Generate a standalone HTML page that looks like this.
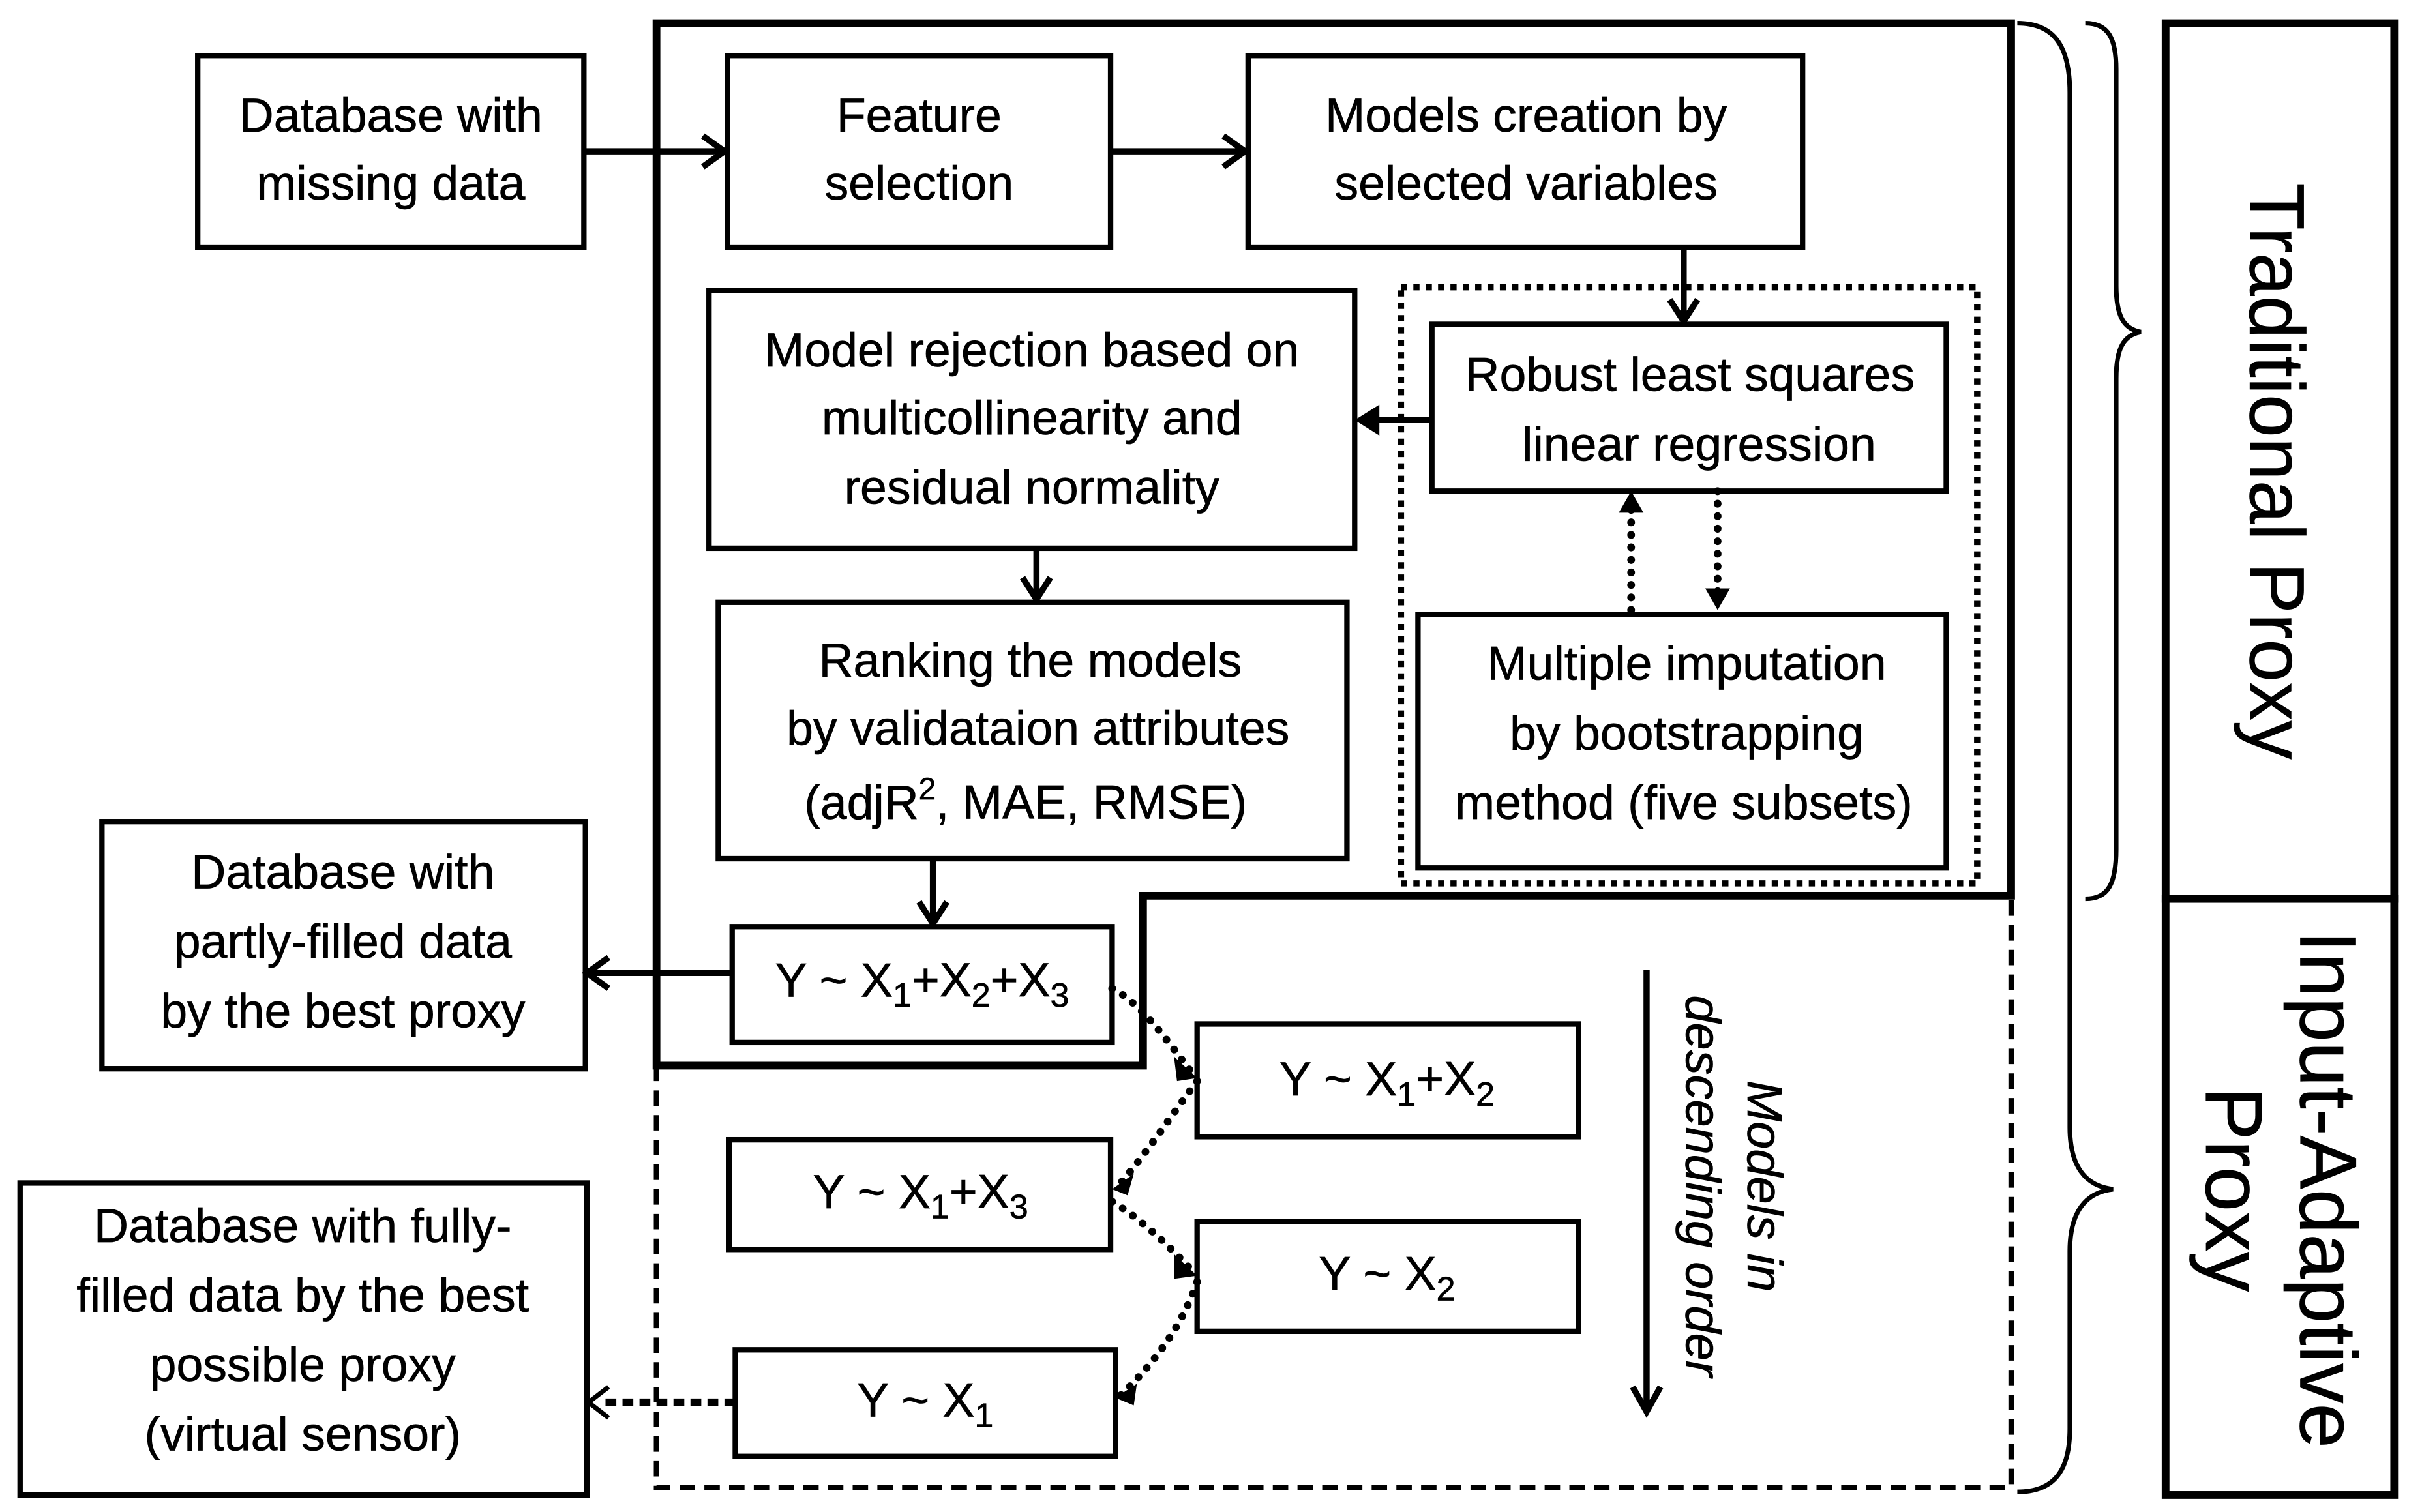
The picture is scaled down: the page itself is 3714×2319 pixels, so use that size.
<!DOCTYPE html>
<html><head><meta charset="utf-8"><style>
html,body{margin:0;padding:0;background:#fff}
svg{display:block}
text{font-family:"Liberation Sans",sans-serif;font-size:31px;fill:#000;text-anchor:middle;dominant-baseline:middle;stroke:#000;stroke-width:0.3}
.b{fill:none;stroke:#000;stroke-width:3.5}
</style></head><body>
<svg width="3714" height="2319" viewBox="0 0 1568 979" preserveAspectRatio="none" xmlns="http://www.w3.org/2000/svg">
<path d="M425,15 H1302 V580 H740 V690 H425 Z" fill="none" stroke="#000" stroke-width="5"/>
<path d="M425,690 V963 H1302 V580" fill="none" stroke="#000" stroke-width="3.5" stroke-dasharray="10,6"/>
<rect x="907" y="186" width="373" height="386" fill="none" stroke="#000" stroke-width="4" stroke-dasharray="4,4"/>

<rect class="b" x="128" y="36" width="250" height="124"/>
<text x="253" y="77">Database with</text><text x="253" y="121">missing data</text>
<rect class="b" x="471" y="36" width="248" height="124"/>
<text x="595" y="77">Feature</text><text x="595" y="121">selection</text>
<rect class="b" x="808" y="36" width="359" height="124"/>
<text x="988" y="77">Models creation by</text><text x="988" y="121">selected variables</text>
<rect class="b" x="927" y="210" width="333" height="108"/>
<text x="1094" y="245">Robust least squares</text><text x="1100" y="290">linear regression</text>
<rect class="b" x="459" y="188" width="418" height="167"/>
<text x="668" y="229">Model rejection based on</text><text x="668" y="273">multicollinearity and</text><text x="668" y="318">residual normality</text>
<rect class="b" x="918" y="398" width="342" height="164"/>
<text x="1092" y="432">Multiple imputation</text><text x="1092" y="477">by bootstrapping</text><text x="1090" y="522">method (five subsets)</text>
<rect class="b" x="465" y="390" width="407" height="166"/>
<text x="667" y="430">Ranking the models</text><text x="672" y="474">by validataion attributes</text>
<text x="664" y="522">(adjR<tspan font-size="20" dy="-10">2</tspan><tspan dy="10">, MAE, RMSE)</tspan></text>
<rect class="b" x="474" y="600" width="246" height="75"/>
<text x="597" y="637">Y ~ X<tspan font-size="22" dy="9">1</tspan><tspan dy="-9">+X</tspan><tspan font-size="22" dy="9">2</tspan><tspan dy="-9">+X</tspan><tspan font-size="22" dy="9">3</tspan></text>
<rect class="b" x="66" y="532" width="313" height="160"/>
<text x="222" y="567">Database with</text><text x="222" y="612">partly-filled data</text><text x="222" y="657">by the best proxy</text>
<rect class="b" x="775" y="663" width="247" height="73"/>
<text x="898" y="701">Y ~ X<tspan font-size="22" dy="9">1</tspan><tspan dy="-9">+X</tspan><tspan font-size="22" dy="9">2</tspan></text>
<rect class="b" x="472" y="738" width="247" height="71"/>
<text x="596" y="774">Y ~ X<tspan font-size="22" dy="9">1</tspan><tspan dy="-9">+X</tspan><tspan font-size="22" dy="9">3</tspan></text>
<rect class="b" x="775" y="791" width="247" height="71"/>
<text x="898" y="827">Y ~ X<tspan font-size="22" dy="9">2</tspan></text>
<rect class="b" x="476" y="874" width="246" height="69"/>
<text x="599" y="909">Y ~ X<tspan font-size="22" dy="9">1</tspan></text>
<rect class="b" x="13" y="766" width="367" height="202"/>
<text x="196" y="796">Database with fully-</text><text x="196" y="841">filled data by the best</text><text x="196" y="886">possible proxy</text><text x="196" y="931">(virtual sensor)</text>

<g stroke="#000" stroke-width="4" fill="none">
<path d="M378,98 H468 M455,88 L469,98 L455,108"/>
<path d="M719,98 H805 M792,88 L806,98 L792,108"/>
<path d="M1090,160 V207 M1081,194 L1090,208 L1099,194"/>
<path d="M927,272 H880"/>
<path d="M671,355 V387 M662,374 L671,388 L680,374"/>
<path d="M604,556 V597 M595,584 L604,598 L613,584"/>
<path d="M474,630 H381 M394,620 L380,630 L394,640"/>
<path d="M1066,628 V912 M1057,898 L1066,914 L1075,898"/>
</g>
<polygon points="877,272 893,262 893,282" fill="#000"/>
<g stroke="#000" stroke-width="5" fill="none" stroke-dasharray="0.1,8" stroke-linecap="round">
<path d="M1056,395 V325"/><path d="M1112,318 V388"/>
<path d="M720,640 C740,650 760,680 772,695"/>
<path d="M775,700 C760,720 740,750 722,770"/>
<path d="M720,778 C740,790 760,810 772,823"/>
<path d="M775,830 C765,860 745,885 724,905"/>
</g>
<polygon points="1056,318 1048,332 1064,332" fill="#000"/>
<polygon points="1112,395 1104,381 1120,381" fill="#000"/>
<polygon points="775,698 760,684 762,700" fill="#000"/>
<polygon points="720,770 734,760 730,774" fill="#000"/>
<polygon points="775,826 760,812 760,828" fill="#000"/>
<polygon points="722,905 736,896 734,910" fill="#000"/>
<path d="M476,908 H390" stroke="#000" stroke-width="5" stroke-dasharray="7,4"/>
<path d="M394,898 L381,908 L394,918" stroke="#000" stroke-width="3" fill="none"/>

<text transform="translate(1140,768) rotate(90)" style="font-style:italic;font-size:32px">Models in</text>
<text transform="translate(1100,768) rotate(90)" style="font-style:italic;font-size:32px">descending order</text>

<path d="M1306,15 C1330,15 1340,30 1340,60 V730 C1340,755 1350,768 1368,770 C1350,772 1340,785 1340,810 V925 C1340,952 1330,966 1306,966" fill="none" stroke="#000" stroke-width="3"/>
<path d="M1350,15 C1365,15 1370,25 1370,45 V185 C1370,205 1375,213 1386,215 C1375,217 1370,225 1370,245 V550 C1370,572 1365,582 1350,582" fill="none" stroke="#000" stroke-width="3"/>

<rect x="1402" y="15" width="148" height="567" fill="none" stroke="#000" stroke-width="5"/>
<rect x="1402" y="582" width="148" height="386" fill="none" stroke="#000" stroke-width="5"/>
<text transform="translate(1470,305) rotate(90)" style="font-size:50px">Traditional Proxy</text>
<text transform="translate(1503,770) rotate(90)" style="font-size:52px">Input-Adaptive</text>
<text transform="translate(1442,770) rotate(90)" style="font-size:52px">Proxy</text>
</svg>
</body></html>
